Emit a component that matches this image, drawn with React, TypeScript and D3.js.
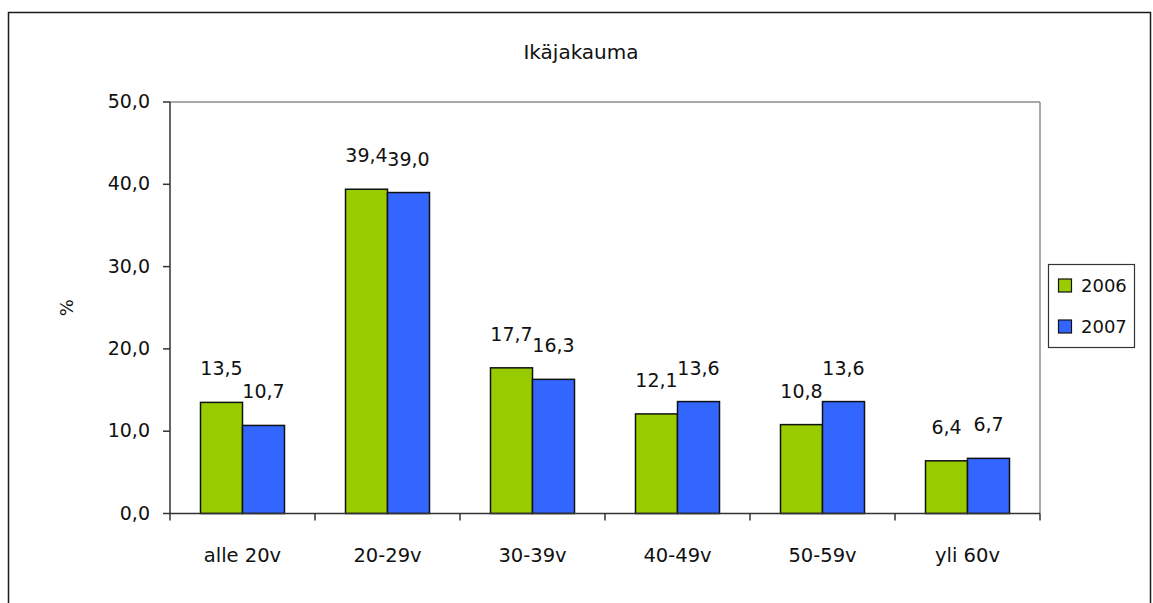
import React from "react";
import * as d3 from "d3";

const categories = ["alle 20v", "20-29v", "30-39v", "40-49v", "50-59v", "yli 60v"];
const series = ["2006", "2007"];
const values2006 = [13.5, 39.4, 17.7, 12.1, 10.8, 6.4];
const values2007 = [10.7, 39.0, 16.3, 13.6, 13.6, 6.7];
const yTicks = [0, 10, 20, 30, 40, 50];
const colors = ["#99CC00", "#3366FF"];
const title = "Ikäjakauma";
const yLabel = "%";

const W = 1153;
const H = 603;
const plot = { left: 170, right: 1040, top: 102, bottom: 513.5 };
const FONT = "'DejaVu Sans', Verdana, sans-serif";

const fmt = (v: number) => v.toFixed(1).replace(".", ",");

export default function App() {
  const x = d3.scaleBand<string>().domain(categories).range([plot.left, plot.right]).paddingInner(0).paddingOuter(0);
  const y = d3.scaleLinear().domain([0, 50]).range([plot.bottom, plot.top]);
  const barW = 42;
  const inner = d3.scaleBand<string>().domain(series).range([0, barW * 2]);
  const data = [values2006, values2007];

  return (
    <svg width={W} height={H} style={{ position: "absolute", left: 0, top: 0, background: "#fff" }} fontFamily={FONT}>
      <rect x={0} y={0} width={W} height={H} fill="#fff" />
      <rect x={8.5} y={12.5} width={1142} height={620} fill="none" stroke="#1a1a1a" strokeWidth={1.5} />
      <text x={581} y={59} textAnchor="middle" fontSize={20} fill="#111">{title}</text>

      {/* plot area border (top, right) */}
      <line x1={plot.left} x2={plot.right} y1={plot.top} y2={plot.top} stroke="#8c8c8c" strokeWidth={1.5} />
      <line x1={plot.right} x2={plot.right} y1={plot.top} y2={plot.bottom} stroke="#8c8c8c" strokeWidth={1.5} />

      {/* bars */}
      {categories.map((c, i) => {
        const gx = (x(c) as number) + x.bandwidth() / 2 - barW;
        return series.map((s, j) => {
          const v = data[j][i];
          const bx = gx + (inner(s) as number);
          return (
            <g key={c + s}>
              <rect x={bx} y={y(v)} width={barW} height={y(0) - y(v)} fill={colors[j]} stroke="#111" strokeWidth={1.5} />
              <text x={bx + barW / 2} y={y(v) - 27} textAnchor="middle" fontSize={19} fill="#111">{fmt(v)}</text>
            </g>
          );
        });
      })}

      {/* y axis */}
      <line x1={plot.left} x2={plot.left} y1={plot.top} y2={plot.bottom} stroke="#333" strokeWidth={1.5} />
      {yTicks.map((t) => (
        <g key={t}>
          <line x1={plot.left - 7} x2={plot.left} y1={y(t)} y2={y(t)} stroke="#333" strokeWidth={1.5} />
          <text x={150} y={y(t) + 6} textAnchor="end" fontSize={19} fill="#111">{fmt(t)}</text>
        </g>
      ))}
      <text transform={`translate(73,${(plot.top + plot.bottom) / 2}) rotate(-90)`} textAnchor="middle" fontSize={18} fill="#111">{yLabel}</text>

      {/* x axis */}
      <line x1={plot.left} x2={plot.right} y1={plot.bottom} y2={plot.bottom} stroke="#333" strokeWidth={1.5} />
      {categories.map((c, i) => (
        <g key={c}>
          <line x1={x(c) as number} x2={x(c) as number} y1={plot.bottom} y2={plot.bottom + 7} stroke="#333" strokeWidth={1.5} />
          {i === categories.length - 1 && (
            <line x1={plot.right} x2={plot.right} y1={plot.bottom} y2={plot.bottom + 7} stroke="#333" strokeWidth={1.5} />
          )}
          <text x={(x(c) as number) + x.bandwidth() / 2} y={562} textAnchor="middle" fontSize={19.5} fill="#111">{c}</text>
        </g>
      ))}

      {/* legend */}
      <rect x={1048.5} y={264.5} width={86} height={83} fill="#fff" stroke="#333" strokeWidth={1.2} />
      {series.map((s, j) => (
        <g key={s}>
          <rect x={1058.5} y={279 + j * 41} width={13} height={13} fill={colors[j]} stroke="#111" strokeWidth={1.2} />
          <text x={1081} y={292 + j * 41} fontSize={18} fill="#111">{s}</text>
        </g>
      ))}
    </svg>
  );
}
